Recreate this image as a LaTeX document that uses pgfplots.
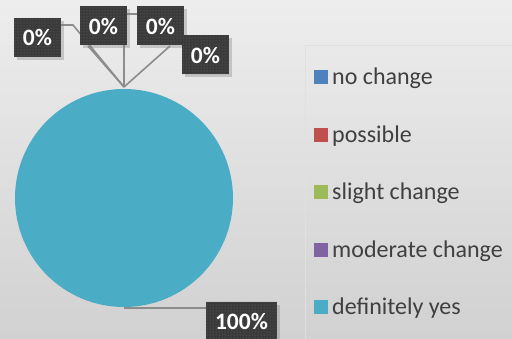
\documentclass[border=0pt]{standalone}
\usepackage{pgfplots}
\usepackage{pgfplotstable}
\pgfplotsset{compat=1.18}
\usepackage{fontspec}
\setmainfont{Carlito}
\usetikzlibrary{shadows,patterns}

\definecolor{c0}{HTML}{4F81BD}
\definecolor{c1}{HTML}{C0504D}
\definecolor{c2}{HTML}{9BBB59}
\definecolor{c3}{HTML}{8064A2}
\definecolor{c4}{HTML}{4BACC6}
\definecolor{boxc}{HTML}{3A3A3A}
\definecolor{leader}{HTML}{8C8C8C}
\definecolor{txt}{HTML}{404040}

\pgfplotstableread{
cat value
nochange 0
possible 0
slight 0
moderate 0
definitely 100
}\piedata

\begin{document}
\begin{tikzpicture}
\useasboundingbox (0,0) rectangle (512pt,338pt);
\clip (0,0) rectangle (512pt,338pt);
\shade[shading angle=135, top color=white!95!black, bottom color=white!80!black] (-60pt,-60pt) rectangle (572pt,398pt);
\begin{axis}[
  at={(0,0)}, anchor=south west,
  width=512pt, height=338pt, scale only axis,
  xmin=0, xmax=512, ymin=0, ymax=338,
  hide axis, clip=false,
  legend style={at={(axis cs:314,272)}, anchor=north west, draw=none, fill=none,
    font=\fontsize{24}{26}\selectfont\color{txt}, row sep=35.3pt,
    inner sep=0pt, cells={anchor=west}},
  legend image code/.code={\fill[#1] (0pt,-7pt) rectangle (14pt,7pt); \path (16pt,0pt);},
  legend cell align=left,
]
% legend frame
\draw[white!88!black, line width=1pt] (axis cs:305,-5) -- (axis cs:305,292) -- (axis cs:520,292);
\def\startangle{90}
\pgfplotsforeachungrouped \i in {0,...,4}{%
  \pgfplotstablegetelem{\i}{value}\of\piedata
  \pgfmathsetmacro\sweep{\pgfplotsretval*3.6}%
  \pgfmathsetmacro\endangle{\startangle-\sweep}%
  \pgfmathsetmacro\sx{124+109*cos(\startangle)}%
  \pgfmathsetmacro\sy{140+109*sin(\startangle)}%
  \ifdim\sweep pt>0pt
    \edef\temp{\noexpand\fill[fill=c\i] (axis cs:124,140) -- (axis cs:\sx,\sy) arc[start angle=\startangle, end angle=\endangle, radius=109pt] -- cycle;}%
    \temp
  \fi
  \global\let\startangle\endangle
}
\addlegendimage{fill=c0, draw=none}\addlegendentry{no change}
\addlegendimage{fill=c1, draw=none}\addlegendentry{possible}
\addlegendimage{fill=c2, draw=none}\addlegendentry{slight change}
\addlegendimage{fill=c3, draw=none}\addlegendentry{moderate change}
\addlegendimage{fill=c4, draw=none}\addlegendentry{definitely yes}
% leader lines
\draw[leader, line width=1.6pt] (axis cs:61,313) -- (axis cs:73,313) -- (axis cs:124,251);
\draw[leader, line width=1.6pt] (axis cs:88,292) -- (axis cs:124,251);
\draw[leader, line width=1.6pt] (axis cs:124,293) -- (axis cs:124,251);
\draw[leader, line width=1.6pt] (axis cs:170,292) -- (axis cs:124,251);
\draw[leader, line width=1.6pt] (axis cs:127,324) -- (axis cs:137,324);
\draw[leader, line width=1.6pt] (axis cs:124,30) -- (axis cs:207,30);
% data labels
\tikzset{dl/.style={fill=boxc, text=white, font=\fontsize{23.5}{26}\selectfont\bfseries,
  minimum height=39pt, inner xsep=3pt, drop shadow={opacity=0.35, shadow xshift=3pt, shadow yshift=-3pt},
  postaction={pattern=dots, pattern color=white!25!boxc}}}
\node[dl, minimum width=47pt] at (axis cs:37.5,300.5) {0\%};
\node[dl, minimum width=47pt] at (axis cs:103.5,312) {0\%};
\node[dl, minimum width=47pt] at (axis cs:160.5,312) {0\%};
\node[dl, minimum width=47pt] at (axis cs:205.5,283) {0\%};
\node[dl, minimum width=71pt] at (axis cs:241.5,17) {100\%};
\end{axis}
\end{tikzpicture}
\end{document}
